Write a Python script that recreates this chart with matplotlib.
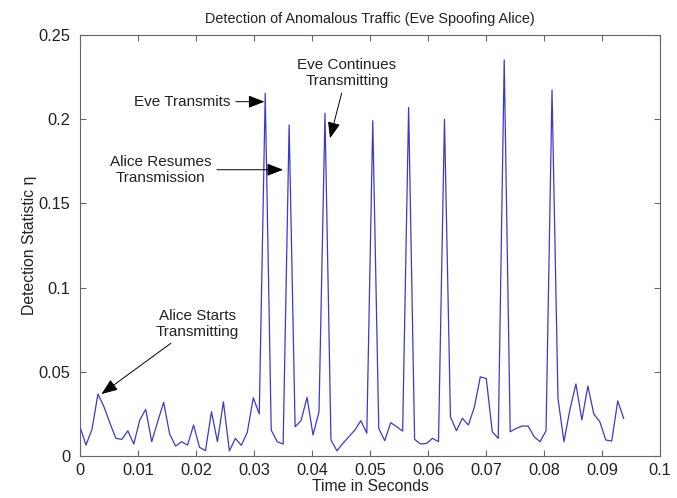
import numpy as np
import matplotlib
matplotlib.use("Agg")
import matplotlib.pyplot as plt
from matplotlib.ticker import FuncFormatter

# Detection statistic samples (uniformly sampled in time)
sample_period = 0.00103
eta = [0.0174, 0.0065, 0.0158, 0.0368, 0.0293, 0.0196, 0.0105, 0.0099, 0.0150, 0.0071,
       0.0214, 0.0277, 0.0085, 0.0204, 0.0319, 0.0130, 0.0059, 0.0085, 0.0065, 0.0184,
       0.0052, 0.0032, 0.0263, 0.0085, 0.0322, 0.0030, 0.0105, 0.0063, 0.0141, 0.0346,
       0.0250, 0.2154, 0.0154, 0.0085, 0.0071, 0.1966, 0.0174, 0.0210, 0.0348, 0.0125,
       0.0263, 0.2035, 0.0095, 0.0031, 0.0075, 0.0115, 0.0154, 0.0210, 0.0135, 0.1991,
       0.0164, 0.0091, 0.0198, 0.0174, 0.0148, 0.2070, 0.0099, 0.0071, 0.0075, 0.0105,
       0.0085, 0.2000, 0.0233, 0.0150, 0.0224, 0.0184, 0.0290, 0.0470, 0.0460, 0.0144,
       0.0105, 0.2352, 0.0144, 0.0164, 0.0178, 0.0178, 0.0115, 0.0085, 0.0150, 0.2173,
       0.0342, 0.0085, 0.0277, 0.0428, 0.0214, 0.0416, 0.0249, 0.0204, 0.0095, 0.0089,
       0.0327, 0.0224]
time = np.arange(len(eta)) * sample_period

x_ticks = [0, 0.01, 0.02, 0.03, 0.04, 0.05, 0.06, 0.07, 0.08, 0.09, 0.1]
y_ticks = [0, 0.05, 0.1, 0.15, 0.2, 0.25]

# annotations: (text, text position (t, eta), arrow tip (t, eta))
annotations = [
    ("Eve Transmits", (0.0176, 0.2104), (0.0318, 0.2104)),
    ("Alice Resumes\nTransmission", (0.0139, 0.170), (0.0350, 0.170)),
    ("Eve Continues\nTransmitting", (0.0460, 0.2275), (0.0431, 0.1887)),
    ("Alice Starts\nTransmitting", (0.0202, 0.0784), (0.0037, 0.0368)),
]

plt.rcParams['font.family'] = ['Liberation Sans', 'DejaVu Sans']
fig = plt.figure(figsize=(6.77, 4.98), dpi=100)
ax = fig.add_axes([0.1182, 0.0843, 0.8568, 0.8454])

ax.plot(time, eta, color='#3a3acc', lw=0.9)

ax.set_xlim(0, 0.1)
ax.set_ylim(0, 0.25)
ax.set_xticks(x_ticks)
ax.set_yticks(y_ticks)
fmt = FuncFormatter(lambda v, p: ('%g' % round(v, 4)))
ax.xaxis.set_major_formatter(fmt)
ax.yaxis.set_major_formatter(fmt)
ax.tick_params(direction='in', top=True, right=True, length=4, width=0.8,
               color='#666666', labelsize=11.8, labelcolor='#222222', pad=5)
ax.tick_params(axis='y', pad=7)
for s in ax.spines.values():
    s.set_color('#666666')
    s.set_linewidth(0.8)

ax.set_title("Detection of Anomalous Traffic (Eve Spoofing Alice)", fontsize=10.4,
             color='#222222', pad=9)
ax.set_xlabel("Time in Seconds", fontsize=11.3, color='#222222', labelpad=1)
ax.set_ylabel("Detection Statistic η", fontsize=11.3, color='#222222', labelpad=1)

for txt, xytext, xy in annotations:
    ax.annotate(txt, xy=xy, xytext=xytext, ha='center', va='center', fontsize=11,
                color='#222222', linespacing=1.15,
                arrowprops=dict(arrowstyle='-|>,head_length=0.9,head_width=0.35',
                                color='black', lw=0.7, mutation_scale=11,
                                shrinkA=2, shrinkB=0))

fig.savefig("out.png", dpi=100)
